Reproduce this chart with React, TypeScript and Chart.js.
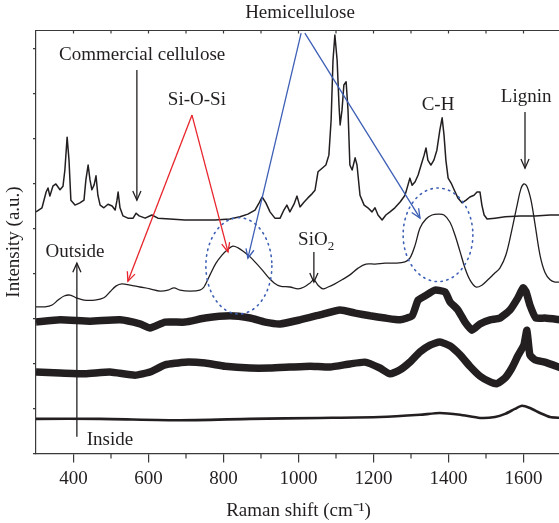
import { useEffect, useRef } from 'react';
import { Chart, registerables } from 'chart.js';

Chart.register(...registerables);

const FONT = '"Liberation Serif", "Times New Roman", serif';
const INK = '#231f20';
const AXIS = '#3a3a3a';
const RED = '#e8262d';
const BLUE = '#3d5fb5';

const X_MIN = 300;
const X_MAX = 1700;
const Y_MIN = 0;
const Y_MAX = 9.4;

const xTicks = [400, 600, 800, 1000, 1200, 1400, 1600];
const xMinorTicks = [500, 700, 900, 1100, 1300, 1500, 1700];
const xTopTicks = [400, 500, 600, 700, 800, 900, 1000, 1100, 1200, 1300, 1400, 1500, 1600, 1700];
const yTicks = [0, 1, 2, 3, 4, 5, 6, 7, 8, 9];

// Commercial cellulose (top trace)
const celluloseShift = [300, 316, 327, 332, 337, 345, 353, 364, 372, 377, 383, 388, 393, 404, 417, 428, 433, 439, 444, 449, 455, 460, 465, 471, 481, 492, 503, 511, 516, 519, 524, 532, 545, 559, 567, 575, 591, 609, 625, 657, 697, 737, 777, 817, 844, 865, 884, 895, 903, 913, 924, 937, 951, 961, 969, 977, 988, 996, 1004, 1015, 1025, 1036, 1044, 1052, 1063, 1073, 1081, 1087, 1092, 1097, 1103, 1108, 1111, 1116, 1121, 1127, 1132, 1137, 1143, 1151, 1156, 1164, 1175, 1185, 1196, 1204, 1212, 1223, 1233, 1244, 1257, 1271, 1284, 1292, 1297, 1303, 1311, 1319, 1327, 1335, 1340, 1345, 1353, 1361, 1369, 1377, 1383, 1388, 1393, 1399, 1407, 1415, 1425, 1436, 1447, 1457, 1468, 1476, 1484, 1489, 1495, 1503, 1524, 1551, 1591, 1631, 1671, 1700];
const celluloseInt = [5.37, 5.46, 5.81, 5.90, 5.72, 5.94, 5.99, 5.86, 5.94, 6.30, 7.03, 6.52, 5.63, 5.52, 5.57, 5.63, 6.08, 6.41, 6.08, 5.86, 5.97, 6.17, 5.74, 5.52, 5.46, 5.54, 5.50, 5.41, 5.63, 5.81, 5.46, 5.28, 5.23, 5.23, 5.34, 5.28, 5.23, 5.30, 5.23, 5.21, 5.19, 5.19, 5.19, 5.21, 5.26, 5.32, 5.41, 5.57, 5.70, 5.57, 5.37, 5.23, 5.23, 5.41, 5.52, 5.37, 5.54, 5.72, 5.48, 5.59, 5.68, 5.77, 5.85, 6.26, 6.34, 6.41, 6.63, 7.41, 8.74, 9.30, 8.74, 7.74, 7.30, 7.63, 8.19, 8.26, 7.63, 6.41, 6.30, 6.57, 6.41, 5.74, 5.52, 5.46, 5.37, 5.46, 5.30, 5.19, 5.30, 5.37, 5.46, 5.59, 5.74, 5.97, 6.12, 5.96, 6.04, 6.19, 6.41, 6.63, 6.79, 6.52, 6.41, 6.52, 6.74, 7.19, 7.46, 7.08, 6.52, 6.12, 6.01, 5.86, 5.68, 5.57, 5.63, 5.70, 5.74, 5.81, 5.81, 5.52, 5.30, 5.21, 5.23, 5.26, 5.28, 5.28, 5.30, 5.30];

// Outside (smooth trace)
const outsideShift = [300, 324, 343, 359, 375, 391, 407, 428, 457, 481, 497, 513, 529, 551, 577, 604, 631, 652, 668, 684, 711, 737, 748, 764, 780, 796, 812, 825, 839, 855, 871, 887, 903, 919, 935, 951, 977, 999, 1015, 1031, 1041, 1052, 1065, 1079, 1097, 1116, 1137, 1159, 1180, 1204, 1231, 1257, 1284, 1297, 1311, 1324, 1340, 1356, 1372, 1388, 1404, 1417, 1431, 1444, 1457, 1473, 1489, 1505, 1521, 1537, 1553, 1569, 1583, 1593, 1601, 1609, 1620, 1631, 1644, 1657, 1671, 1684, 1700];
const outsideInt = [3.26, 3.26, 3.30, 3.41, 3.50, 3.52, 3.46, 3.41, 3.41, 3.46, 3.59, 3.72, 3.77, 3.74, 3.70, 3.66, 3.61, 3.63, 3.68, 3.63, 3.61, 3.63, 3.70, 3.97, 4.23, 4.41, 4.54, 4.61, 4.57, 4.48, 4.37, 4.23, 4.08, 3.92, 3.79, 3.72, 3.70, 3.66, 3.70, 3.79, 3.86, 3.74, 3.66, 3.70, 3.77, 3.86, 3.97, 4.12, 4.21, 4.21, 4.23, 4.23, 4.26, 4.34, 4.63, 5.01, 5.21, 5.30, 5.32, 5.30, 5.14, 4.86, 4.48, 4.12, 3.86, 3.70, 3.74, 3.86, 3.99, 4.12, 4.41, 4.97, 5.52, 5.88, 5.99, 5.94, 5.63, 5.08, 4.41, 4.03, 3.86, 3.81, 3.81];

// Middle noisy trace (upper)
const layerAShift = [300, 364, 444, 524, 577, 604, 644, 697, 751, 817, 871, 911, 951, 1004, 1057, 1111, 1151, 1191, 1231, 1271, 1303, 1319, 1337, 1364, 1391, 1404, 1425, 1444, 1463, 1484, 1511, 1537, 1564, 1585, 1599, 1607, 1617, 1633, 1657, 1700];
const layerAInt = [2.92, 2.97, 2.94, 2.97, 2.88, 2.79, 2.92, 2.92, 3.01, 3.06, 3.01, 2.92, 2.88, 2.97, 3.08, 3.19, 3.12, 3.06, 3.01, 2.97, 3.06, 3.41, 3.50, 3.63, 3.59, 3.37, 3.19, 2.92, 2.74, 2.88, 2.97, 3.01, 3.19, 3.46, 3.68, 3.59, 3.30, 3.01, 3.01, 2.97];

// Middle noisy trace (lower)
const layerBShift = [300, 364, 431, 497, 564, 604, 644, 697, 751, 804, 871, 924, 977, 1031, 1084, 1137, 1177, 1217, 1244, 1271, 1297, 1324, 1351, 1377, 1404, 1431, 1457, 1484, 1511, 1529, 1551, 1569, 1585, 1601, 1609, 1617, 1631, 1657, 1700];
const layerBInt = [1.81, 1.79, 1.77, 1.81, 1.74, 1.81, 1.97, 2.03, 2.01, 1.94, 1.90, 1.90, 1.92, 1.94, 1.92, 1.99, 2.03, 1.90, 1.77, 1.86, 2.03, 2.26, 2.41, 2.48, 2.39, 2.19, 1.94, 1.72, 1.59, 1.55, 1.68, 1.90, 2.17, 2.41, 2.74, 2.19, 2.08, 2.03, 1.90];

// Inside (bottom trace)
const insideShift = [300, 471, 684, 871, 1057, 1217, 1324, 1377, 1431, 1484, 1524, 1551, 1577, 1596, 1617, 1644, 1671, 1700];
const insideInt = [0.77, 0.77, 0.74, 0.77, 0.79, 0.81, 0.86, 0.90, 0.86, 0.79, 0.81, 0.88, 0.99, 1.06, 1.01, 0.90, 0.81, 0.79];

// Annotation texts placed at (shift, intensity)
const labelTexts = ['Hemicellulose', 'Commercial cellulose', 'Si-O-Si', 'C-H', 'Lignin', 'Outside', 'Inside'];
const labelShift = [1004, 583, 729, 1372, 1607, 404, 497];
const labelInt = [9.79, 8.86, 7.86, 7.74, 7.92, 4.48, 0.30];

// Arrows: from (shift, int) to (shift, int)
const arrowFromShift = [569, 716, 716, 1007, 1017, 1604, 1041, 409];
const arrowFromInt = [8.52, 7.52, 7.52, 9.34, 9.34, 7.59, 4.48, 0.37];
const arrowToShift = [569, 545, 812, 865, 1324, 1604, 1041, 409];
const arrowToInt = [5.63, 3.83, 4.48, 4.34, 5.23, 6.34, 3.81, 4.23];
const arrowColors = [INK, RED, RED, BLUE, BLUE, INK, INK, INK];

// Dotted ellipses: centre and radii in data units
const ringShift = [841, 1372];
const ringInt = [4.17, 4.86];
const ringRadShift = [88, 93];
const ringRadInt = [1.07, 1.04];

const pts = (xs: number[], ys: number[]) => xs.map((x, i) => ({ x, y: ys[i] }));

function drawArrow(ctx: CanvasRenderingContext2D, x1: number, y1: number, x2: number, y2: number, color: string) {
  ctx.strokeStyle = color;
  ctx.lineWidth = 1.3;
  ctx.beginPath();
  ctx.moveTo(x1, y1);
  ctx.lineTo(x2, y2);
  ctx.stroke();
  const a = Math.atan2(y2 - y1, x2 - x1);
  const h = 10;
  const s = 0.42;
  ctx.beginPath();
  ctx.moveTo(x2 - h * Math.cos(a - s), y2 - h * Math.sin(a - s));
  ctx.lineTo(x2, y2);
  ctx.lineTo(x2 - h * Math.cos(a + s), y2 - h * Math.sin(a + s));
  ctx.stroke();
}

const annotationPlugin = {
  id: 'ramanAnnotations',
  afterDatasetsDraw(chart: any) {
    const { ctx, chartArea, scales } = chart;
    const xs = scales.x;
    const ys = scales.y;
    const px = (v: number) => xs.getPixelForValue(v);
    const py = (v: number) => ys.getPixelForValue(v);
    ctx.save();

    // top frame line with inward ticks
    ctx.strokeStyle = AXIS;
    ctx.lineWidth = 1.2;
    ctx.beginPath();
    ctx.moveTo(chartArea.left, chartArea.top);
    ctx.lineTo(chartArea.right + 2, chartArea.top);
    ctx.stroke();
    xTopTicks.forEach((t) => {
      ctx.beginPath();
      ctx.moveTo(px(t), chartArea.top);
      ctx.lineTo(px(t), chartArea.top + 3);
      ctx.stroke();
    });
    // bottom minor ticks
    xMinorTicks.forEach((t) => {
      ctx.beginPath();
      ctx.moveTo(px(t), chartArea.bottom);
      ctx.lineTo(px(t), chartArea.bottom + 5);
      ctx.stroke();
    });

    // dotted rings
    ctx.strokeStyle = BLUE;
    ctx.lineWidth = 1.6;
    ctx.setLineDash([1.4, 4.6]);
    ctx.lineCap = 'round';
    ringShift.forEach((w, i) => {
      const cx = px(w);
      const cy = py(ringInt[i]);
      const rx = px(w + ringRadShift[i]) - cx;
      const ry = py(ringInt[i] - ringRadInt[i]) - cy;
      ctx.beginPath();
      ctx.ellipse(cx, cy, rx, ry, 0, 0, Math.PI * 2);
      ctx.stroke();
    });
    ctx.setLineDash([]);
    ctx.lineCap = 'butt';

    // arrows
    arrowFromShift.forEach((w, i) => {
      drawArrow(ctx, px(w), py(arrowFromInt[i]), px(arrowToShift[i]), py(arrowToInt[i]), arrowColors[i]);
    });

    // labels
    ctx.fillStyle = INK;
    ctx.font = `19px ${FONT}`;
    ctx.textAlign = 'center';
    ctx.textBaseline = 'middle';
    labelTexts.forEach((t, i) => {
      ctx.fillText(t, px(labelShift[i]), py(labelInt[i]));
    });

    // SiO2 with subscript
    const sx = px(1047);
    const sy = py(4.74);
    ctx.font = `19px ${FONT}`;
    const wMain = ctx.measureText('SiO').width;
    ctx.font = `13px ${FONT}`;
    const wSub = ctx.measureText('2').width;
    const startX = sx - (wMain + wSub) / 2;
    ctx.textAlign = 'left';
    ctx.font = `19px ${FONT}`;
    ctx.fillText('SiO', startX, sy);
    ctx.font = `13px ${FONT}`;
    ctx.fillText('2', startX + wMain, sy + 6);

    ctx.restore();
  },
};

export default function App() {
  const ref = useRef<HTMLCanvasElement | null>(null);

  useEffect(() => {
    if (!ref.current) return;
    const lineSet = (label: string, xs: number[], ys: number[], width: number, tension: number) => ({
      label,
      data: pts(xs, ys),
      showLine: true,
      borderColor: INK,
      backgroundColor: INK,
      borderWidth: width,
      pointRadius: 0,
      tension,
      borderJoinStyle: 'round' as const,
    });
    const chart = new Chart(ref.current, {
      type: 'scatter',
      data: {
        datasets: [
          lineSet('Commercial cellulose', celluloseShift, celluloseInt, 1.5, 0),
          lineSet('Outside', outsideShift, outsideInt, 1.3, 0.35),
          lineSet('Layer A', layerAShift, layerAInt, 7.5, 0.15),
          lineSet('Layer B', layerBShift, layerBInt, 7.5, 0.15),
          lineSet('Inside', insideShift, insideInt, 2.6, 0.2),
        ],
      },
      options: {
        responsive: false,
        animation: false,
        devicePixelRatio: 1,
        layout: { padding: { top: 30.5, right: 9, left: 0, bottom: 0 } },
        plugins: { legend: { display: false }, tooltip: { enabled: false } },
        scales: {
          x: {
            type: 'linear',
            position: 'bottom',
            min: X_MIN,
            max: X_MAX,
            afterBuildTicks: (s: any) => {
              s.ticks = xTicks.map((v) => ({ value: v }));
            },
            afterFit: (s: any) => {
              s.height = 69.5;
            },
            ticks: {
              color: INK,
              font: { family: FONT, size: 19 },
              padding: 5,
              maxRotation: 0,
              autoSkip: false,
              callback: (v: any) => String(v),
            },
            grid: { drawOnChartArea: false, tickLength: 9, color: AXIS, lineWidth: 1.2 },
            border: { display: true, color: AXIS, width: 1.2 },
            title: {
              display: true,
              text: 'Raman shift (cm\u207B\u00B9)',
              color: INK,
              font: { family: FONT, size: 19 },
              padding: { top: 0, bottom: 1 },
            },
          },
          y: {
            type: 'linear',
            min: Y_MIN,
            max: Y_MAX,
            afterBuildTicks: (s: any) => {
              s.ticks = yTicks.map((v) => ({ value: v }));
            },
            afterFit: (s: any) => {
              s.width = 36;
            },
            ticks: { display: false },
            grid: { drawOnChartArea: false, tickLength: 3, color: AXIS, lineWidth: 1.2 },
            border: { display: true, color: AXIS, width: 1.2 },
            title: {
              display: true,
              text: 'Intensity (a.u.)',
              color: INK,
              font: { family: FONT, size: 19 },
              padding: { top: 3, bottom: 0 },
            },
          },
        },
      },
      plugins: [annotationPlugin],
    });
    return () => chart.destroy();
  }, []);

  return (
    <div style={{ position: 'fixed', left: 0, top: 0, width: 559, height: 523, overflow: 'hidden', background: '#fff' }}>
      <canvas ref={ref} width={570} height={523} style={{ display: 'block' }} />
    </div>
  );
}
